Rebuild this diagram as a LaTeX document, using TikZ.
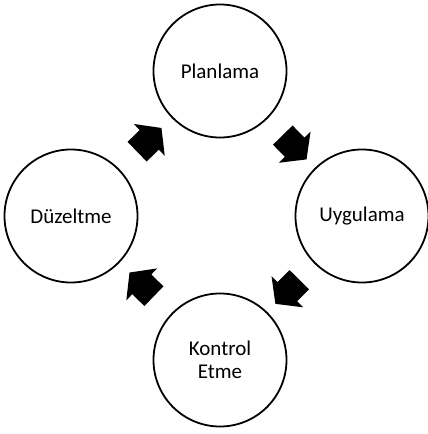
\documentclass[tikz,border=0pt]{standalone}
\usepackage{fontspec}
\setmainfont{Carlito}
\usetikzlibrary{shapes.arrows}

\tikzset{
  stage/.style={circle, draw=black, line width=1.8pt, minimum size=133pt, inner sep=0pt, align=center, font=\fontsize{21}{23}\selectfont},
  blockarrow/.style={single arrow, fill=black, draw=none, inner sep=0pt, inner ysep=13.5pt, minimum height=34pt, minimum width=44pt, single arrow head extend=8.5pt, single arrow tip angle=105}
}

\begin{document}
\begin{tikzpicture}[x=1pt,y=1pt]
\useasboundingbox (0,0) rectangle (428,434);
\node[stage] (pl) at (220,363) {Planlama};
\node[stage] (ug) at (362,218) {Uygulama};
\node[stage] (ke) at (220,74) {Kontrol\\Etme};
\node[stage] (dz) at (71,218) {Düzeltme};
\foreach \a/\b in {dz/pl,pl/ug,ug/ke,ke/dz} {
 \path (\a) -- node[blockarrow, sloped, allow upside down] {} (\b);
}
\end{tikzpicture}
\end{document}
